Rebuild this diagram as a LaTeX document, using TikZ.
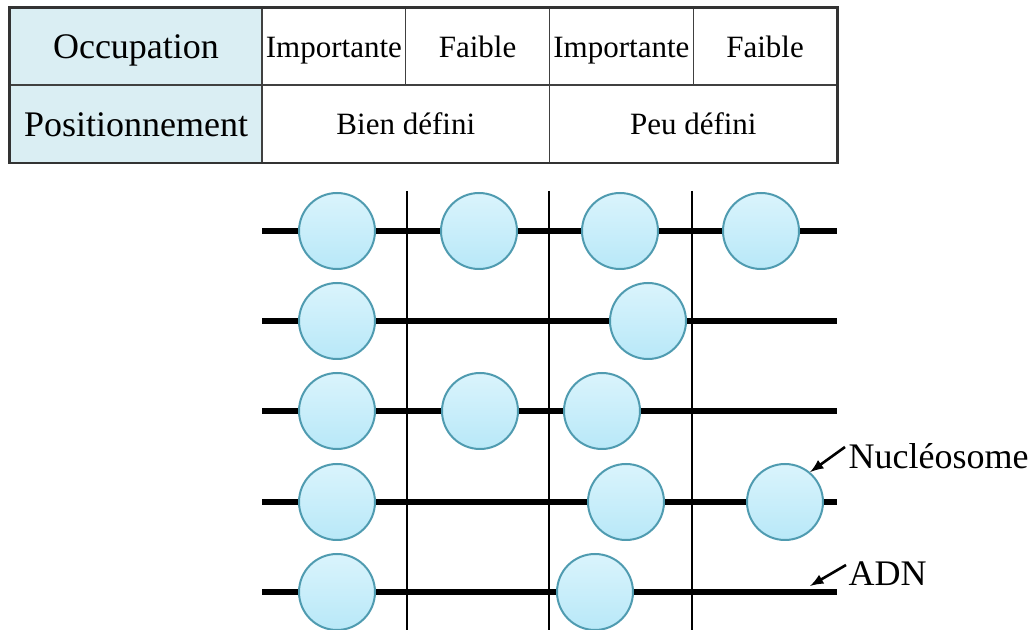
\documentclass[tikz,border=0pt]{standalone}
\usepackage{fontspec}
\setmainfont{Liberation Serif}
\usetikzlibrary{arrows,positioning}

\definecolor{headblue}{HTML}{DAEEF3}
\definecolor{nuctop}{HTML}{DAF4FC}
\definecolor{nucbot}{HTML}{B8E8F8}
\definecolor{nucline}{HTML}{4F9BB0}

\begin{document}
\begin{tikzpicture}[x=0.5pt,y=-0.5pt,>=latex,semithick]
  \tikzstyle{cell}=[draw=black!75,line width=0.7pt,minimum height=38.5pt,inner sep=0pt,
                    text height=11pt,text depth=0pt,font=\fontsize{15.5}{17}\selectfont]
  \tikzstyle{head}=[cell,fill=headblue,minimum width=126pt,text height=12.5pt,
                    font=\fontsize{18}{20}\selectfont]
  \tikzstyle{half}=[cell,minimum width=71.875pt]
  \tikzstyle{wide}=[cell,minimum width=143.75pt]
  \tikzstyle{dna}=[line width=2.9pt,black]
  \tikzstyle{bar}=[line width=0.8pt,black]
  \tikzstyle{nuc}=[circle,draw=nucline,line width=1pt,minimum size=38pt,inner sep=0pt,
                   top color=nuctop,bottom color=nucbot]
  \tikzstyle{tag}=[font=\fontsize{18}{20}\selectfont,anchor=west,inner sep=0pt]
  \tikzstyle{pointer}=[->,line width=1.3pt]

  \useasboundingbox (0,0) rectangle (1035,630);

  % table
  \node[head] (occ) at (136,46.5) {Occupation};
  \node[head] (pos) at (136,124)  {Positionnement};
  \node[half] (imp1) at (333.9,46.5) {Importante};
  \node[half] (fai1) at (477.6,46.5) {Faible};
  \node[half] (imp2) at (621.4,46.5) {Importante};
  \node[half] (fai2) at (765.1,46.5) {Faible};
  \node[wide] (bien) at (405.8,124) {Bien défini};
  \node[wide] (peu)  at (693.3,124) {Peu défini};
  \draw[line width=1.3pt,black!80] (occ.north west) rectangle (peu.south east);

  % separators
  \foreach \x/\n in {407/a,549/b,692/c}{
    \coordinate (t\n) at (\x,191);
    \coordinate (b\n) at (\x,630);
    \draw[bar] (t\n) -- (b\n);
  }

  % DNA strands
  \foreach \y/\n in {231/1,321/2,411/3,502/4,592/5}{
    \coordinate (l\n) at (262,\y);
    \coordinate (r\n) at (837,\y);
    \draw[dna] (l\n) -- (r\n);
  }

  % nucleosomes
  \foreach \x/\y/\n in {337/231/11,479/231/12,620/231/13,761/231/14,
                        337/321/21,648/321/22,
                        337/411/31,480/411/32,602/411/33,
                        337/502/41,626/502/42,785/502/43,
                        337/592/51,595/592/52}
    \node[nuc] (n\n) at (\x,\y) {};

  % labels
  \node[tag] (nuclabel) at (848,456) {Nucléosome};
  \node[tag] (dnalabel) at (848,574) {ADN};
  \coordinate (nt) at (845,447);
  \coordinate (dt) at (846,565);
  \coordinate (dnatip) at (810,586);
  \draw[pointer] (nt) -- (n43.50);
  \draw[pointer] (dt) -- (dnatip);
\end{tikzpicture}
\end{document}
